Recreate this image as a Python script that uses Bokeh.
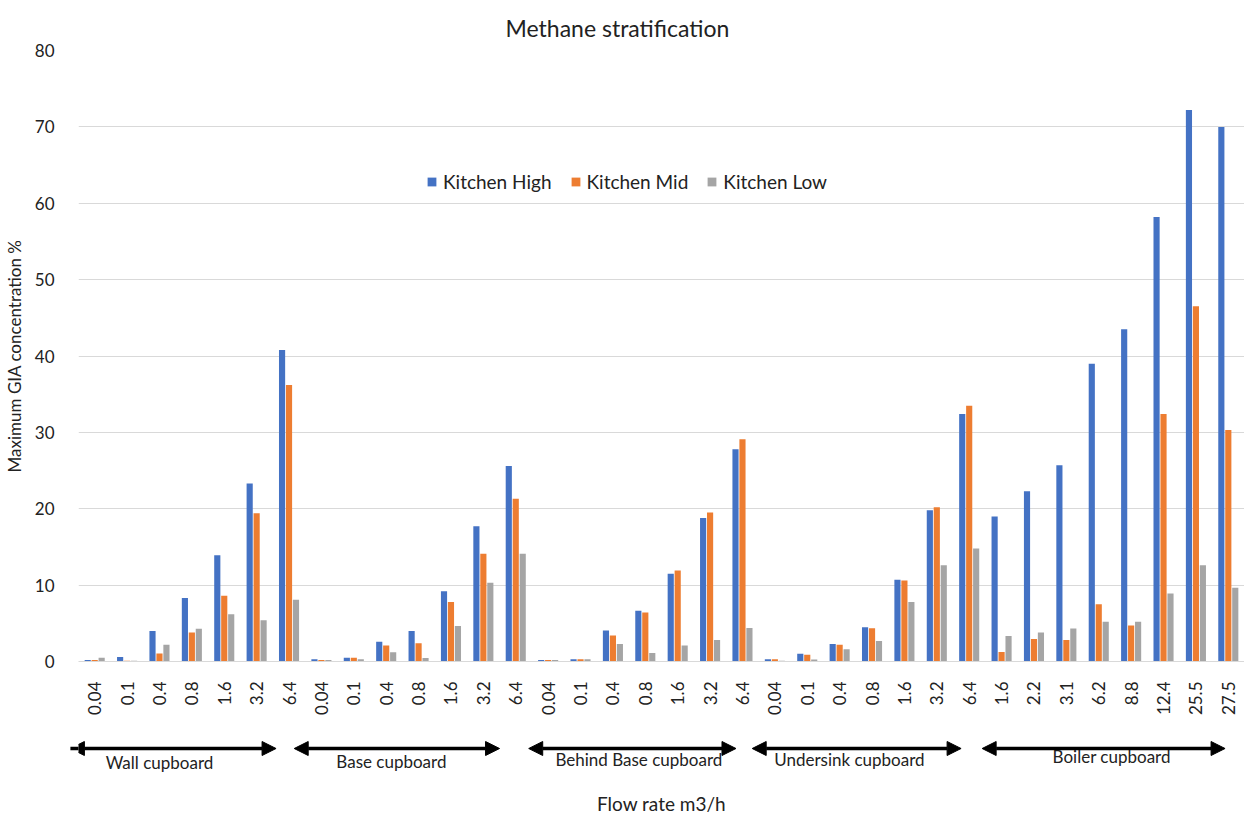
import math
from bokeh.plotting import figure
from bokeh.models import (ColumnDataSource, Range1d, FixedTicker, Legend, LegendItem,
                          Arrow, NormalHead, Title)
from bokeh.layouts import column
from bokeh.transform import dodge
from bokeh.core.properties import value
from bokeh.embed import file_html
from bokeh.resources import INLINE

# ---------------- data ----------------
flow_labels = ["0.04", "0.1", "0.4", "0.8", "1.6", "3.2", "6.4",
               "0.04", "0.1", "0.4", "0.8", "1.6", "3.2", "6.4",
               "0.04", "0.1", "0.4", "0.8", "1.6", "3.2", "6.4",
               "0.04", "0.1", "0.4", "0.8", "1.6", "3.2", "6.4",
               "1.6", "2.2", "3.1", "6.2", "8.8", "12.4", "25.5", "27.5"]

kitchen_high = [0.2, 0.6, 4.0, 8.3, 13.9, 23.3, 40.8,
                0.3, 0.5, 2.6, 4.0, 9.2, 17.7, 25.6,
                0.2, 0.3, 4.05, 6.65, 11.5, 18.8, 27.8,
                0.3, 1.0, 2.3, 4.5, 10.7, 19.8, 32.4,
                19.0, 22.3, 25.7, 39.0, 43.5, 58.2, 72.2, 70.0]
kitchen_mid = [0.2, 0.1, 1.05, 3.8, 8.6, 19.4, 36.2,
               0.2, 0.5, 2.1, 2.4, 7.8, 14.1, 21.3,
               0.2, 0.3, 3.4, 6.4, 11.9, 19.5, 29.1,
               0.3, 0.9, 2.2, 4.35, 10.6, 20.2, 33.5,
               1.23, 2.95, 2.8, 7.5, 4.7, 32.4, 46.5, 30.3]
kitchen_low = [0.5, 0.1, 2.2, 4.3, 6.2, 5.4, 8.1,
               0.2, 0.3, 1.2, 0.45, 4.65, 10.3, 14.1,
               0.2, 0.3, 2.3, 1.1, 2.1, 2.8, 4.4,
               0.1, 0.25, 1.6, 2.7, 7.8, 12.6, 14.8,
               3.35, 3.8, 4.33, 5.2, 5.2, 8.9, 12.6, 9.65]

series_names = ["Kitchen High", "Kitchen Mid", "Kitchen Low"]
group_names = ["Wall cupboard", "Base cupboard", "Behind Base cupboard",
               "Undersink cupboard", "Boiler cupboard"]
group_first = [0, 7, 14, 21, 28]
group_last = [6, 13, 20, 27, 35]

# ---------------- styles ----------------
FONT = "Lato"
colors = ["#4472C4", "#ED7D31", "#A5A5A5"]
offsets = [-0.215, 0.0, 0.215]
arrow_pad_start = [0.75, 0.84, 0.6, 0.7, 0.6]
arrow_pad_end = [0.4, 0.5, 0.2, 0.25, 0.1]
label_shift = [2.0, 2.16, 2.8, 2.3, 3.4]

x_idx = list(range(len(flow_labels)))
src = ColumnDataSource(dict(x=x_idx, high=kitchen_high, mid=kitchen_mid, low=kitchen_low))

xr = Range1d(-0.5, len(flow_labels) - 0.5)

p = figure(width=1244, height=735, x_range=xr, y_range=Range1d(0, 80),
           output_backend="svg", toolbar_location=None,
           min_border_left=76, min_border_right=0, min_border_top=50,
           min_border_bottom=74)
p.outline_line_color = None
p.background_fill_color = "white"
p.border_fill_color = "white"

t = Title(text="Methane stratification", align="left", text_font=FONT,
          text_font_size="23px", text_font_style="normal", text_color="#222222",
          offset=427, standoff=18)
p.add_layout(t, "above")

renderers = []
for col, off, c in zip(["high", "mid", "low"], offsets, colors):
    r = p.vbar(x=dodge("x", off, range=p.x_range), top=col, width=0.19, bottom=0,
               source=src, fill_color=c, line_color=None)
    renderers.append(r)

legend = Legend(items=[LegendItem(label=n, renderers=[r]) for n, r in zip(series_names, renderers)],
                orientation="horizontal", location=(348, 468),
                glyph_width=11, glyph_height=11, label_standoff=6, spacing=18,
                padding=0, margin=0, border_line_color=None,
                background_fill_alpha=0, label_text_font=FONT,
                label_text_font_size="19px", label_text_color="#222222")
p.add_layout(legend, "center")

# y axis
p.yaxis.ticker = FixedTicker(ticks=list(range(0, 81, 10)))
p.yaxis.axis_line_color = None
p.yaxis.major_tick_line_color = None
p.yaxis.minor_tick_line_color = None
p.yaxis.major_label_standoff = 18
p.yaxis.major_label_text_font = FONT
p.yaxis.major_label_text_font_size = "17px"
p.yaxis.major_label_text_color = "#222222"
p.yaxis.axis_label = "Maximum GIA concentration %"
p.yaxis.axis_label_text_font = FONT
p.yaxis.axis_label_text_font_size = "17px"
p.yaxis.axis_label_text_font_style = "normal"
p.yaxis.axis_label_text_color = "#222222"
p.yaxis.axis_label_standoff = 7

# x axis
p.xaxis.ticker = FixedTicker(ticks=x_idx)
p.xaxis.major_label_overrides = {i: lab for i, lab in enumerate(flow_labels)}
p.xaxis.major_label_orientation = math.pi / 2
p.xaxis.axis_line_color = "#D9D9D9"
p.xaxis.major_tick_line_color = None
p.xaxis.minor_tick_line_color = None
p.xaxis.major_label_standoff = 14
p.xaxis.major_label_text_font = FONT
p.xaxis.major_label_text_font_size = "17px"
p.xaxis.major_label_text_color = "#222222"

p.xgrid.grid_line_color = None
p.ygrid.grid_line_color = "#D9D9D9"
p.ygrid.grid_line_width = 1

# ---------------- lower annotation strip ----------------
q = figure(width=1244, height=81, x_range=xr, y_range=Range1d(81, 0),
           output_backend="svg", toolbar_location=None,
           min_border_left=76, min_border_right=0, min_border_top=0, min_border_bottom=0)
q.outline_line_color = None
q.axis.visible = False
q.grid.visible = False

arrow_src = ColumnDataSource(dict(
    xs=[f - a for f, a in zip(group_first, arrow_pad_start)],
    xe=[l - b for l, b in zip(group_last, arrow_pad_end)],
    ys=[13] * 5, ye=[13] * 5))
q.add_layout(Arrow(x_start="xs", y_start="ys", x_end="xe", y_end="ye", source=arrow_src,
                   line_color="black", line_width=3.5,
                   start=NormalHead(size=14, fill_color="black", line_color="black"),
                   end=NormalHead(size=14, fill_color="black", line_color="black")))

lab_src = ColumnDataSource(dict(
    x=[f + s for f, s in zip(group_first, label_shift)],
    y=[27, 26, 24, 24, 21], text=group_names))
q.text(x="x", y="y", text="text", source=lab_src, text_font=value(FONT),
       text_font_size="17px", text_align="center", text_baseline="middle",
       text_color="#222222")

xl_src = ColumnDataSource(dict(x=[(len(flow_labels) - 1) / 2], y=[68], text=["Flow rate m3/h"]))
q.text(x="x", y="y", text="text", source=xl_src, text_font=value(FONT),
       text_font_size="19px", text_align="center", text_baseline="middle",
       text_color="#222222")

layout = column(p, q, spacing=0)
open("out.html", "w").write(file_html(layout, INLINE))
